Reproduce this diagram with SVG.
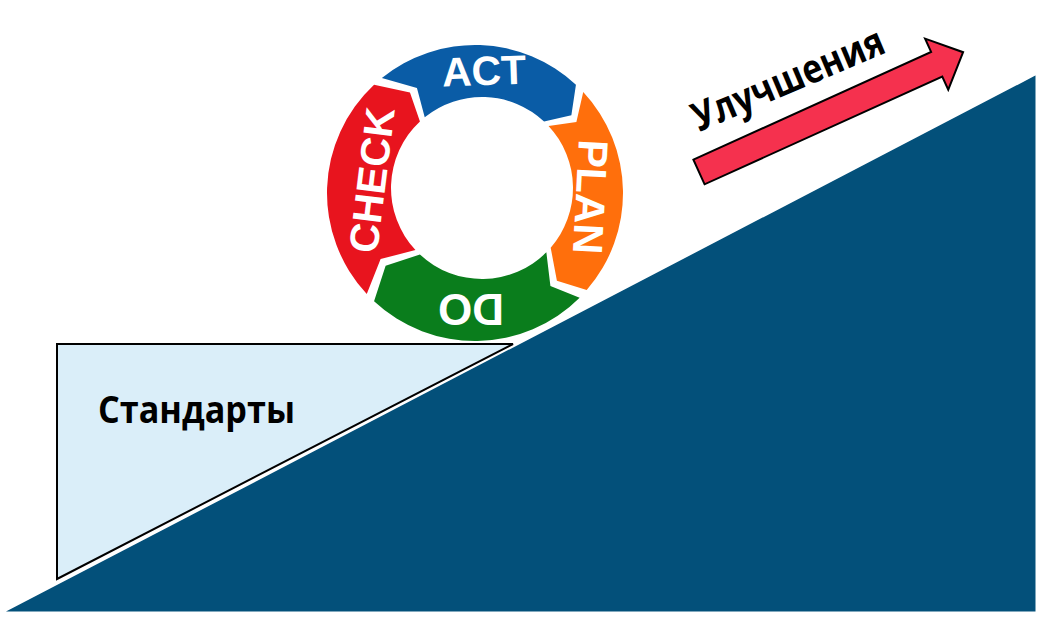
<svg xmlns="http://www.w3.org/2000/svg" width="1040" height="640" viewBox="0 0 1040 640">
  <style>
    .seg-text { font-family: "Liberation Sans", Arial, sans-serif; font-weight: bold; fill: #ffffff; text-anchor: middle; }
    .label { font-family: "Open Sans", "Noto Sans", sans-serif; font-weight: bold; fill: #000000; }
  </style>
  <rect x="0" y="0" width="1040" height="640" fill="#ffffff"/>

  <g id="slope">
    <polygon points="0,613 1037,73 1037,613" fill="#03507a" stroke="#ffffff" stroke-width="3" stroke-linejoin="miter"/>
  </g>

  <g id="standards">
    <polygon points="57,344 513,344 57,579" fill="#daeef9" stroke="#000000" stroke-width="2"/>
    <text class="label" x="98" y="423" font-size="37" textLength="197" lengthAdjust="spacingAndGlyphs">Стандарты</text>
  </g>

  <g id="act">
    <path d="M381.86,77.98 A148,148 0 0 1 575.94,84.76 L571.37,115.30 L544.06,121.45 A91,91 0 0 0 424.73,117.28 L416.95,88.07 Z" fill="#0a5ca6"/>
    <text class="seg-text" font-size="41" transform="translate(484,70) rotate(-2)" x="0" y="15">ACT</text>
  </g>

  <g id="plan">
    <path d="M583.24,92.06 A148,148 0 0 1 586.70,290.10 L556.90,280.69 L550.68,247.70 A91,91 0 0 0 548.55,125.94 L576.39,121.96 Z" fill="#ff6f0c"/>
    <text class="seg-text" font-size="42" transform="translate(591,197) rotate(93)" x="0" y="15">PLAN</text>
  </g>

  <g id="do">
    <path d="M579.65,297.65 A148,148 0 0 1 374.06,301.24 L385.63,265.70 L419.94,254.55 A91,91 0 0 0 546.35,252.35 L550.42,285.94 Z" fill="#0a7d1c"/>
    <text class="seg-text" font-size="44" transform="translate(471,310) rotate(180)" x="0" y="16">DO</text>
  </g>

  <g id="check">
    <path d="M366.76,293.94 A148,148 0 0 1 374.06,84.76 L409.96,92.61 L419.94,121.45 A91,91 0 0 0 415.45,250.06 L380.61,259.04 Z" fill="#e8141e"/>
    <text class="seg-text" font-size="41" transform="translate(371,180) rotate(-83)" x="0" y="15">CHECK</text>
  </g>

  <g id="improvement">
    <polygon transform="translate(699,172) rotate(-24.4)" points="0,-13.5 261,-13.5 261,-28 290,0 261,28 261,13.5 0,13.5" fill="#f5314e" stroke="#000000" stroke-width="2" stroke-linejoin="miter"/>
    <text class="label" font-size="40" transform="translate(699,132) rotate(-23)" x="0" y="0" textLength="205" lengthAdjust="spacingAndGlyphs">Улучшения</text>
  </g>
</svg>
